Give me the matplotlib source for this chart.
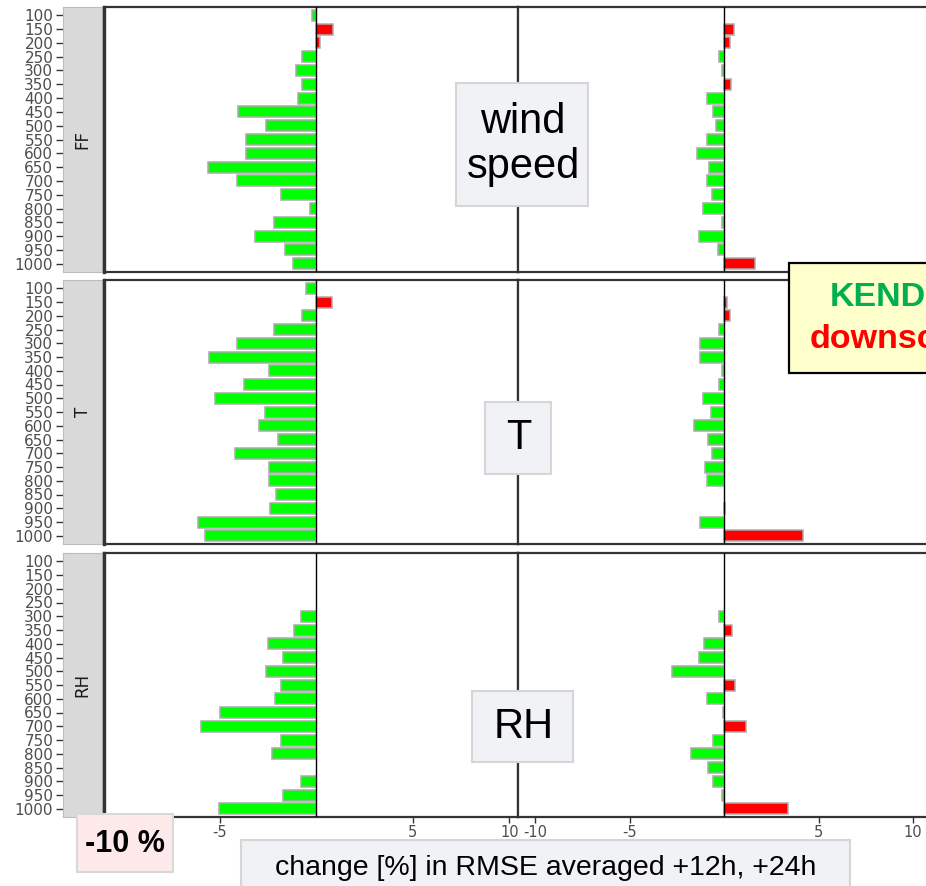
import numpy as np
import matplotlib
matplotlib.use("Agg")
import matplotlib.pyplot as plt
from matplotlib.patches import Rectangle

# pressure levels (hPa), top of the atmosphere first
levels = [100, 150, 200, 250, 300, 350, 400, 450, 500, 550,
          600, 650, 700, 750, 800, 850, 900, 950, 1000]
variables = ["FF", "T", "RH"]
labels = ["wind\nspeed", "T", "RH"]

# change [%] in RMSE, left experiment
ff_left = [-0.22, 0.85, 0.2, -0.74, -1.03, -0.74, -0.94, -4.04, -2.58, -3.61,
           -3.61, -5.58, -4.09, -1.8, -0.31, -2.2, -3.14, -1.6, -1.2]
t_left = [-0.52, 0.8, -0.74, -2.2, -4.09, -5.55, -2.46, -3.75, -5.24, -2.63,
          -2.97, -1.98, -4.18, -2.46, -2.46, -2.06, -2.41, -6.1, -5.76]
rh_left = [np.nan, np.nan, np.nan, np.nan, -0.79, -1.17, -2.51, -1.69, -2.58, -1.8,
           -2.15, -4.95, -5.98, -1.8, -2.28, np.nan, -0.77, -1.69, -5.04]

# change [%] in RMSE, right experiment
ff_right = [np.nan, 0.55, 0.3, -0.25, -0.1, 0.35, -0.92, -0.57, -0.42, -0.92,
            -1.41, -0.78, -0.92, -0.65, -1.1, -0.1, -1.32, -0.3, 1.65]
t_right = [np.nan, 0.15, 0.3, -0.25, -1.27, -1.27, -0.1, -0.25, -1.13, -0.7,
           -1.59, -0.83, -0.65, -1.0, -0.88, np.nan, 0.05, -1.27, 4.15]
rh_right = [np.nan, np.nan, np.nan, np.nan, -0.25, 0.4, -1.06, -1.32, -2.77, 0.58,
            -0.88, -0.05, 1.17, -0.56, -1.76, -0.83, -0.56, -0.1, 3.4]

left_data = [ff_left, t_left, rh_left]
right_data = [ff_right, t_right, rh_right]

xticks = [-10, -5, 5, 10]
# the -10 of the left column sits under the "-10 %" note
left_xticklabels = ["", "-5", "5", "10"]
right_xticklabels = ["-10", "-5", "5", "10"]

W, H = 926, 886
fig = plt.figure(figsize=(W / 100, H / 100), dpi=100)
fig.patch.set_facecolor("white")


def px_axes(x0, y0, x1, y1):
    return fig.add_axes([x0 / W, 1 - y1 / H, (x1 - x0) / W, (y1 - y0) / H])


def draw_bars(ax, values, xlim, ticklabels):
    y = np.arange(1, len(levels) + 1)
    vals = np.array(values, dtype=float)
    ok = ~np.isnan(vals)
    colors = ["#FF0000" if v > 0 else "#00FF00" for v in vals[ok]]
    ax.barh(y[ok], vals[ok], height=0.8, color=colors,
            edgecolor="#ABABAB", linewidth=1.1, zorder=2)
    ax.axvline(0, color="black", linewidth=1.0, zorder=3)
    ax.set_xlim(*xlim)
    ax.set_ylim(len(levels) + 0.6, 0.4)
    ax.set_yticks([])
    for sp in ax.spines.values():
        sp.set_color("#333333")
        sp.set_linewidth(1.6)
    ax.set_xticks(xticks)
    if ticklabels is not None:
        ax.set_xticklabels(ticklabels)
        ax.tick_params(axis="x", length=4, width=1, color="#333333",
                       labelsize=10.5, labelcolor="#4D4D4D", pad=2)
    else:
        ax.tick_params(axis="x", length=0, labelbottom=False)


rows = [(7, 272), (280, 544), (553, 817)]

for i, (top, bottom) in enumerate(rows):
    last = i == len(rows) - 1

    # facet strip with the level axis on its left
    strip = px_axes(63, top, 102, bottom)
    strip.set_facecolor("#D9D9D9")
    strip.set_ylim(len(levels) + 0.6, 0.4)
    strip.set_xticks([])
    strip.set_yticks(np.arange(1, len(levels) + 1))
    strip.set_yticklabels([str(l) for l in levels])
    strip.tick_params(axis="y", length=5, width=1, color="#333333",
                      labelsize=11, labelcolor="#4D4D4D", pad=2)
    for sp in strip.spines.values():
        sp.set_color("#BDBDBD")
        sp.set_linewidth(0.8)
    strip.text(0.5, 0.5, variables[i], rotation=90, ha="center", va="center",
               fontsize=12, color="#1A1A1A", transform=strip.transAxes)

    ax_l = px_axes(104, top, 518, bottom)
    draw_bars(ax_l, left_data[i], (-10.98, 10.45),
              left_xticklabels if last else None)
    ax_l.spines["left"].set_linewidth(2.4)

    ax_r = px_axes(518, top, 932, bottom)
    draw_bars(ax_r, right_data[i], (-10.9, 11.0),
              right_xticklabels if last else None)


def px_box(x0, y0, x1, y1, face, edge, lw=1.5):
    fig.patches.append(Rectangle((x0 / W, 1 - y1 / H), (x1 - x0) / W, (y1 - y0) / H,
                                 transform=fig.transFigure, facecolor=face,
                                 edgecolor=edge, linewidth=lw, zorder=5))


def px_text(x, y, s, **kw):
    fig.text(x / W, 1 - y / H, s, zorder=6, **kw)


sans = ["Liberation Sans", "DejaVu Sans"]

# variable name boxes in the middle of each row
name_boxes = [(456, 83, 588, 206), (485, 402, 551, 474), (472, 691, 573, 762)]
for (x0, y0, x1, y1), s in zip(name_boxes, labels):
    px_box(x0, y0, x1, y1, "#F1F2F6", "#D6D6D6")
    px_text((x0 + x1) / 2 + 1, (y0 + y1) / 2, s, ha="center", va="center",
            fontsize=30, family=sans, color="black", linespacing=1.15)

# experiment note, running off the right edge
px_box(789, 263, 1000, 373, "#FFFFCC", "black", lw=1.6)
px_text(830, 297, "KENDA", ha="left", va="center", fontsize=24.5,
        fontweight="bold", family=sans, color="#00B050")
px_text(810, 340, "downsc", ha="left", va="center", fontsize=24.5,
        fontweight="bold", family=sans, color="#FF0000")

# scale hint and axis title
px_box(77, 814, 173, 872, "#FDE9E9", "#D8D8D8")
px_text(125, 844, "-10 %", ha="center", va="center", fontsize=22,
        fontweight="bold", family=sans, color="black")

px_box(241, 840, 850, 900, "#F1F2F6", "#D6D6D6")
px_text(546, 868, "change [%] in RMSE averaged +12h, +24h", ha="center",
        va="center", fontsize=20.5, family=sans, color="black")

fig.savefig("out.png", dpi=100)
